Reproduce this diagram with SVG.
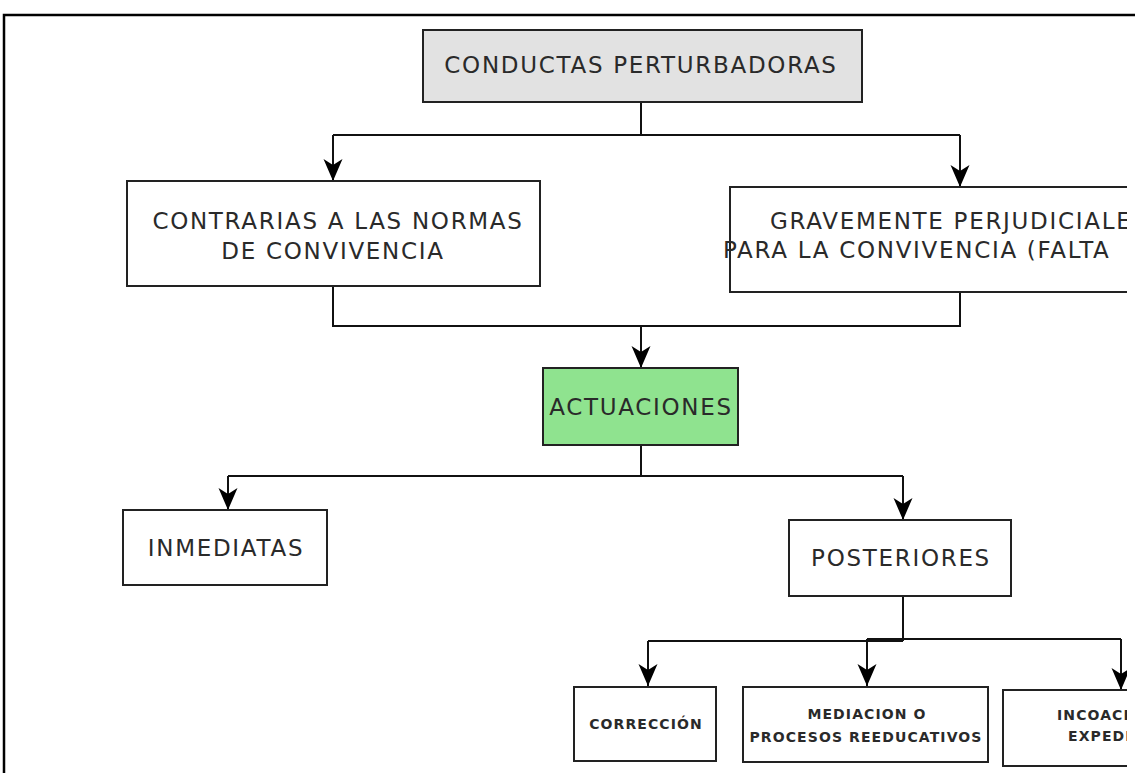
<svg xmlns="http://www.w3.org/2000/svg" width="1135" height="773" viewBox="0 0 1135 773">
<style>
.box{fill:#ffffff;stroke:#222;stroke-width:2}
.big{font-family:"DejaVu Sans",Verdana,sans-serif;font-size:23px;fill:#2a2a2a;letter-spacing:1.7px}
.small{font-family:"DejaVu Sans",Verdana,sans-serif;font-size:14px;font-weight:bold;fill:#2a2a2a;letter-spacing:1.1px}
.c{fill:none;stroke:#111;stroke-width:2}
</style>
<defs>
<marker id="ah" markerUnits="userSpaceOnUse" markerWidth="24" markerHeight="22" viewBox="-23 -11 24 22" refX="0" refY="0" orient="auto">
<path d="M0,0 L-22,-9.5 L-16,0 L-22,9.5 Z" fill="#000"/>
</marker>
<clipPath id="cl"><rect x="0" y="0" width="1127" height="773"/></clipPath>
</defs>
<rect width="1135" height="773" fill="#fff"/>
<path d="M4,773 L4,15 L1135,15" fill="none" stroke="#000" stroke-width="2.5"/>
<g id="connectors" clip-path="url(#cl)">
<path class="c" d="M641,102 V135 M333,135 H960"/>
<path class="c" d="M333,135 V181" marker-end="url(#ah)"/>
<path class="c" d="M960,135 V187" marker-end="url(#ah)"/>
<path class="c" d="M333,286 V326 H960 V292"/>
<path class="c" d="M641,326 V368" marker-end="url(#ah)"/>
<path class="c" d="M641,445 V476 M228,476 H903"/>
<path class="c" d="M228,476 V510" marker-end="url(#ah)"/>
<path class="c" d="M903,476 V520" marker-end="url(#ah)"/>
<path class="c" d="M903,596 V641 M648,641 H903 M867,639 H1121"/>
<path class="c" d="M648,641 V686" marker-end="url(#ah)"/>
<path class="c" d="M867,639 V686" marker-end="url(#ah)"/>
<path class="c" d="M1121,639 V690" marker-end="url(#ah)"/>
</g>
<g id="conductas">
<rect class="box" x="423" y="30" width="439" height="72" style="fill:#e2e2e2"/>
<text class="big" x="641" y="73" text-anchor="middle">CONDUCTAS PERTURBADORAS</text>
</g>
<g id="contrarias">
<rect class="box" x="127" y="181" width="413" height="105"/>
<text class="big" x="338" y="229" text-anchor="middle">CONTRARIAS A LAS NORMAS</text>
<text class="big" x="333" y="259" text-anchor="middle">DE CONVIVENCIA</text>
</g>
<g id="gravemente" clip-path="url(#cl)">
<rect class="box" x="730" y="187" width="420" height="105"/>
<text class="big" x="770" y="229">GRAVEMENTE PERJUDICIALE</text>
<text class="big" x="723" y="258">PARA LA CONVIVENCIA (FALTA</text>
</g>
<g id="actuaciones">
<rect class="box" x="543" y="368" width="195" height="77" style="fill:#8fe38f"/>
<text class="big" x="641" y="415" text-anchor="middle">ACTUACIONES</text>
</g>
<g id="inmediatas">
<rect class="box" x="123" y="510" width="204" height="75"/>
<text class="big" x="226" y="556" text-anchor="middle">INMEDIATAS</text>
</g>
<g id="posteriores">
<rect class="box" x="789" y="520" width="222" height="76"/>
<text class="big" x="901" y="566" text-anchor="middle">POSTERIORES</text>
</g>
<g id="correccion">
<rect class="box" x="574" y="687" width="142" height="74"/>
<text class="small" x="646" y="729" text-anchor="middle">CORRECCIÓN</text>
</g>
<g id="mediacion">
<rect class="box" x="743" y="687" width="245" height="75"/>
<text class="small" x="867" y="719" text-anchor="middle">MEDIACION O</text>
<text class="small" x="866" y="742" text-anchor="middle">PROCESOS REEDUCATIVOS</text>
</g>
<g id="incoacion" clip-path="url(#cl)">
<rect class="box" x="1003" y="690" width="150" height="76"/>
<text class="small" x="1057" y="720">INCOACI</text>
<text class="small" x="1068" y="741">EXPEDI</text>
</g>
</svg>
